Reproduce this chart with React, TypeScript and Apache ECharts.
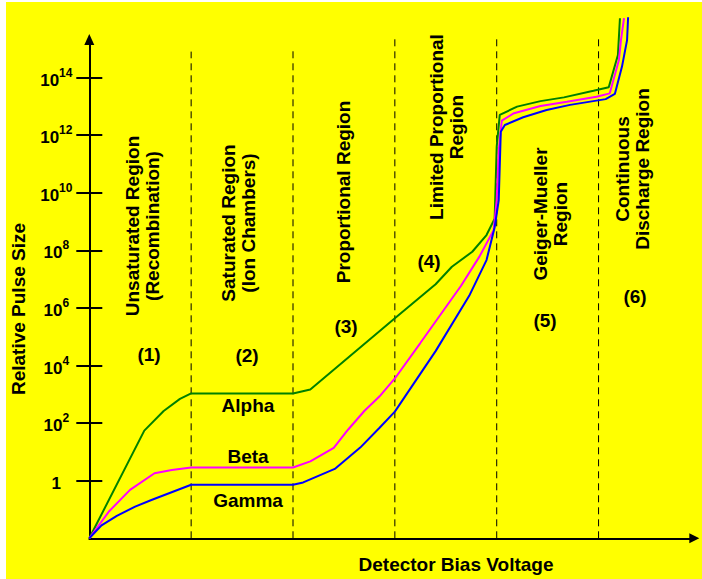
import React, { useEffect, useRef } from 'react';
import * as echarts from 'echarts';

// Curves: [region position (0..6), log10(relative pulse size)]
const alpha: number[][] = [
  [0, -2], [0.54, 1.74], [0.73, 2.42], [0.89, 2.84], [1.0, 3.03], [2.0, 3.03], [2.17, 3.17],
  [3.0, 5.64], [3.4, 6.82], [3.56, 7.43], [3.76, 7.95], [3.9, 8.53], [3.98, 9.1], [4.0, 11.6],
  [4.03, 12.7], [4.2, 12.99], [4.43, 13.18], [4.66, 13.31], [4.95, 13.54], [5.1, 13.66],
  [5.19, 14.78], [5.21, 16.06],
];
const beta: number[][] = [
  [0, -2], [0.19, -1.08], [0.4, -0.32], [0.64, 0.26], [0.81, 0.37], [1.0, 0.46], [2.0, 0.46],
  [2.17, 0.67], [2.4, 1.14], [2.54, 1.77], [2.7, 2.42], [2.85, 2.93], [3.0, 3.55], [3.25, 4.78],
  [3.65, 6.77], [3.83, 7.78], [3.97, 8.7], [4.0, 9.74], [4.02, 11.48], [4.05, 12.5], [4.17, 12.76],
  [4.43, 13.01], [4.69, 13.16], [4.98, 13.33], [5.11, 13.45], [5.2, 14.61], [5.22, 15.3], [5.25, 16.06],
];
const gamma: number[][] = [
  [0, -2], [0.12, -1.55], [0.27, -1.22], [0.45, -0.9], [0.61, -0.67], [1.0, -0.14], [2.0, -0.14],
  [2.1, -0.06], [2.41, 0.41], [2.66, 1.15], [2.85, 1.84], [3.0, 2.4], [3.4, 4.5], [3.73, 6.42],
  [3.9, 7.66], [3.98, 8.8], [4.02, 9.74], [4.04, 12.12], [4.08, 12.35], [4.26, 12.62], [4.49, 12.87],
  [4.72, 13.05], [5.07, 13.25], [5.16, 13.43], [5.23, 14.38], [5.28, 15.3], [5.29, 16.09],
];
const curveNames = ['Alpha', 'Beta', 'Gamma'];
const curveColors = ['#008000', '#ff00ff', '#0000ff'];

const boundaries = [1, 2, 3, 4, 5];
const boundaryTops = [14.9, 15.03, 15.5, 15.5, 15.5];

const tickExponents = [0, 2, 4, 6, 8, 10, 12, 14];

const regionTitles = [
  'Unsaturated Region\n(Recombination)',
  'Saturated Region\n(Ion Chambers)',
  'Proportional Region',
  'Limited Proportional\nRegion',
  'Geiger-Mueller\nRegion',
  'Continuous\nDischarge Region',
];
const regionNumbers = ['(1)', '(2)', '(3)', '(4)', '(5)', '(6)'];
const xAxisTitle = 'Detector Bias Voltage';
const yAxisTitle = 'Relative Pulse Size';

const X_MIN = 0;
const X_MAX = 5.94;
const Y_MIN = -2;
const Y_MAX = 15.32;

const FONT = '"Liberation Sans", Arial, Helvetica, sans-serif';

// text layout (pixels)
const titlePos = [[142, 226], [238, 223], [343, 192], [446, 127], [550, 214], [632, 169]];
const numberPos = [[149, 354], [247, 355], [346, 326], [429, 261], [545, 320], [635, 296]];
const curveLabelPos = [[248, 405], [248, 456], [248, 500]];

export default function App() {
  const ref = useRef<HTMLDivElement>(null);
  useEffect(() => {
    const chart = echarts.init(ref.current!, null, { renderer: 'svg' });
    const textStyle = (text: string) => ({
      text,
      fill: '#000',
      fontSize: 19,
      fontWeight: 'bold',
      fontFamily: FONT,
      align: 'center',
      verticalAlign: 'middle',
      lineHeight: 20,
    });
    const graphics: any[] = [];
    regionTitles.forEach((t, i) => {
      graphics.push({ type: 'text', x: titlePos[i][0], y: titlePos[i][1], rotation: Math.PI / 2, style: textStyle(t), z: 10 });
    });
    regionNumbers.forEach((t, i) => {
      graphics.push({ type: 'text', x: numberPos[i][0], y: numberPos[i][1], style: textStyle(t), z: 10 });
    });
    curveNames.forEach((t, i) => {
      graphics.push({ type: 'text', x: curveLabelPos[i][0], y: curveLabelPos[i][1], style: textStyle(t), z: 10 });
    });
    graphics.push({ type: 'text', x: 456, y: 564, style: textStyle(xAxisTitle), z: 10 });
    graphics.push({ type: 'text', x: 18, y: 309, rotation: Math.PI / 2, style: textStyle(yAxisTitle), z: 10 });

    const series: any[] = [];
    boundaries.forEach((b, i) => {
      series.push({
        type: 'line',
        data: [[b, Y_MIN], [b, boundaryTops[i]]],
        symbol: 'none',
        silent: true,
        clip: false,
        z: 2,
        lineStyle: { color: '#000', width: 1, type: [7, 5] },
      });
    });
    [alpha, beta, gamma].forEach((d, i) => {
      series.push({
        type: 'line',
        name: curveNames[i],
        data: d,
        symbol: 'none',
        clip: false,
        z: 3,
        lineStyle: { color: curveColors[i], width: 2 },
      });
    });

    const tickCommon = {
      type: 'value',
      min: Y_MIN,
      max: Y_MAX,
      interval: 2,
      splitLine: { show: false },
    };

    chart.setOption({
      animation: false,
      backgroundColor: 'transparent',
      grid: { left: 89.3, right: 7.7, top: 39.5, bottom: 40.7, outerBoundsMode: 'none' } as any,
      xAxis: {
        type: 'value',
        min: X_MIN,
        max: X_MAX,
        splitLine: { show: false },
        axisTick: { show: false },
        axisLabel: { show: false },
        axisLine: {
          show: true,
          onZero: false,
          symbol: ['none', 'triangle'],
          symbolSize: [10, 10],
          lineStyle: { color: '#000', width: 2 },
        },
      },
      yAxis: [
        {
          ...tickCommon,
          position: 'left',
          axisLine: {
            show: true,
            onZero: false,
            symbol: ['none', 'triangle'],
            symbolSize: [10, 11],
            lineStyle: { color: '#000', width: 2 },
          },
          axisTick: {
            show: true,
            length: 13,
            customValues: tickExponents,
            lineStyle: { color: '#000', width: 2 },
          },
          axisLabel: {
            show: true,
            customValues: tickExponents,
            align: 'center',
            margin: 33,
            formatter: (v: number) => (v === 0 ? '{b|1}' : `{b|10}{s|${v}}`),
            rich: {
              b: { fontSize: 17, fontWeight: 'bold', fontFamily: FONT, color: '#000', lineHeight: 22, verticalAlign: 'bottom' },
              s: { fontSize: 12, fontWeight: 'bold', fontFamily: FONT, color: '#000', lineHeight: 12, verticalAlign: 'top' },
            },
          },
        },
        {
          ...tickCommon,
          position: 'left',
          offset: 0,
          axisLine: { show: false, onZero: false },
          axisLabel: { show: false },
          axisTick: {
            show: true,
            inside: true,
            length: 13,
            customValues: tickExponents,
            lineStyle: { color: '#000', width: 2 },
          },
        },
      ],
      graphic: graphics,
      series,
    });
    return () => chart.dispose();
  }, []);
  return (
    <div style={{ position: 'absolute', left: 0, top: 0, width: 702, height: 579, background: '#fff', overflow: 'hidden' }}>
      <div style={{ position: 'absolute', left: 6, top: 2, right: 0, bottom: 0, background: '#ffff00' }} />
      <div ref={ref} style={{ position: 'absolute', left: 0, top: 0, width: 702, height: 579 }} />
    </div>
  );
}
